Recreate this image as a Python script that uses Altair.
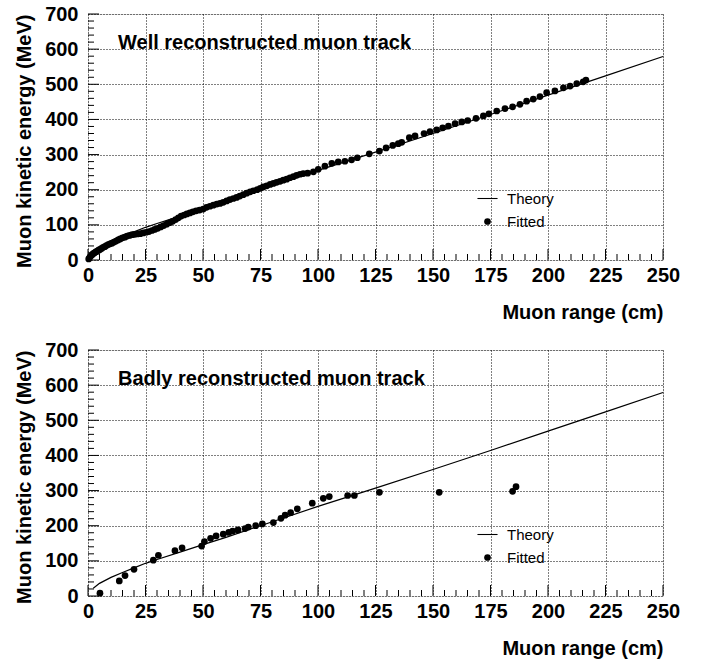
import altair as alt
import pandas as pd

# ---------------- data ----------------
theory_range = [2.3, 5, 10, 15, 20, 25, 30, 40, 50, 60, 75, 100, 125, 150, 175, 200, 225, 250]
theory_ke = [22, 36, 53, 67, 80, 93, 104, 125, 146, 167, 200, 255, 307, 360, 414, 469, 524, 579]

good_range = [0.3, 0.8, 1.3, 1.8, 2.3, 2.8, 3.4, 4.0, 4.6, 5.2, 5.9, 6.6, 7.3, 8.0, 8.8, 9.6,
              10.4, 11.3, 12.2, 13.1, 14.0, 15.0, 16.0, 17.0, 18.1, 19.2, 20.3, 21.5, 22.7,
              24.0, 25.3, 26.5, 27.8, 29.0, 30.3, 31.6, 32.9, 34.2, 35.5, 36.8, 38.1, 39.3,
              40.5, 41.8, 43.0, 44.3, 45.6, 47.0, 48.5, 50.1, 51.5, 53.0, 54.5, 56.0, 57.4,
              58.8, 60.3, 61.7, 63.2, 64.6, 66.0, 67.5, 69.0, 70.5, 71.9, 73.5, 74.9, 76.2,
              77.7, 79.2, 80.6, 82.0, 83.5, 84.9, 86.4, 87.8, 89.3, 90.7, 92.2, 93.6, 95.5,
              98.0, 100.1, 103.0, 106.0, 108.8, 111.7, 114.6, 117.1, 122.3, 126.7, 129.6,
              132.5, 134.9, 136.4, 139.7, 142.2, 146.1, 148.7, 151.6, 154.2, 156.7, 159.6,
              162.5, 165.1, 168.7, 171.9, 174.3, 177.7, 181.3, 184.6, 187.8, 190.7, 193.6,
              196.5, 199.4, 203.0, 206.7, 209.6, 212.5, 215.3, 216.5]
good_ke = [3, 8, 12, 15, 18, 20, 23, 25, 28, 30, 33, 36, 38, 41, 44, 46,
           48, 51, 54, 57, 60, 63, 65, 68, 70, 72, 73, 74, 75,
           77, 79, 81, 84, 87, 90, 94, 98, 102, 106, 110, 115, 120,
           125, 128, 131, 134, 137, 140, 142, 145, 150, 153, 156, 159, 161,
           164, 168, 172, 175, 178, 182, 186, 190, 194, 197, 200, 204, 208,
           211, 215, 218, 221, 224, 227, 230, 234, 237, 241, 244, 246, 247,
           251, 258, 267, 275, 279, 281, 285, 291, 302, 310, 319,
           326, 331, 335, 348, 353, 360, 365, 370, 376, 381, 388,
           393, 397, 403, 410, 416, 424, 431, 436, 443, 452, 458,
           465, 476, 481, 490, 495, 502, 507, 512]

bad_range = [5.2, 13.6, 16.1, 20.0, 28.4, 30.6, 37.8, 40.9, 49.4, 50.6, 53.3, 55.7, 58.8,
             61.2, 62.9, 65.2, 68.3, 69.7, 72.9, 75.8, 80.6, 83.9, 85.7, 88.1, 91.0, 97.5,
             102.3, 104.9, 112.9, 115.8, 126.7, 152.7, 184.6, 186.1]
bad_ke = [8, 43, 58, 76, 102, 116, 129, 137, 142, 155, 164, 171, 176,
          181, 185, 188, 192, 196, 200, 205, 209, 221, 230, 237, 248, 264,
          278, 283, 286, 286, 295, 295, 298, 311]

panel_titles = ["Well reconstructed muon track", "Badly reconstructed muon track"]
legend_labels = ["Theory", "Fitted"]
x_title = "Muon range (cm)"
y_title = "Muon kinetic energy (MeV)"
x_major = list(range(0, 251, 25))
x_minor = [v for v in range(0, 251, 5) if v % 25]
y_major = list(range(0, 701, 100))
y_minor = [v for v in range(0, 701, 20) if v % 100]

# ---------------- styling ----------------
FONT = "Liberation Sans"
W, H = 575, 246
FS = 20
MAJOR, MINOR = 11, 6   # inward tick lengths in px

xs = alt.Scale(domain=[0, 250], nice=False, zero=False)
ys = alt.Scale(domain=[0, 700], nice=False, zero=False)

main_x = alt.Axis(values=x_major, orient="bottom", title=x_title, titleAnchor="end",
                  titlePadding=17, labelPadding=5, ticks=False, tickSize=0, domain=False,
                  grid=True, gridDash=[1, 2], gridColor="black", gridWidth=1,
                  labelFont=FONT, labelFontSize=FS, labelFontWeight="bold", labelColor="black",
                  titleFont=FONT, titleFontSize=FS, titleFontWeight="bold", titleColor="black",
                  labelFlush=False, labelOverlap=False)
main_y = alt.Axis(values=y_major, orient="left", title=y_title, titleAnchor="end",
                  titlePadding=10, labelPadding=10, ticks=False, tickSize=0, domain=False,
                  grid=True, gridDash=[1, 2], gridColor="black", gridWidth=1,
                  labelFont=FONT, labelFontSize=FS, labelFontWeight="bold", labelColor="black",
                  titleFont=FONT, titleFontSize=FS, titleFontWeight="bold", titleColor="black",
                  labelFlush=False, labelOverlap=False)


def xticks(vals, ln):
    # inward tick: a filled 1px-wide bar symbol standing on the x axis line
    hw = round(1.0 / ln, 3)
    path = f"M{-hw},0H{hw}V-2H{-hw}Z"
    return alt.Chart(pd.DataFrame({"t": vals})).transform_calculate(a="0").mark_point(
        shape=path, filled=True, color="black", size=ln * ln, opacity=1
    ).encode(x=alt.X("t:Q", scale=xs, axis=main_x), y=alt.Y("a:Q", scale=ys, axis=main_y))


def yticks(vals, ln):
    hw = round(1.0 / ln, 3)
    path = f"M0,{-hw}H2V{hw}H0Z"
    return alt.Chart(pd.DataFrame({"t": vals})).transform_calculate(a="0").mark_point(
        shape=path, filled=True, color="black", size=ln * ln, opacity=1
    ).encode(y=alt.Y("t:Q", scale=ys, axis=main_y), x=alt.X("a:Q", scale=xs, axis=main_x))


def panel(px, py, label):
    theory_df = pd.DataFrame({"range": theory_range, "ke": theory_ke})
    fit_df = pd.DataFrame({"range": px, "ke": py, "series": legend_labels[1]})

    line = alt.Chart(theory_df).mark_line(color="black", strokeWidth=1.2).encode(
        x=alt.X("range:Q", scale=xs, axis=main_x),
        y=alt.Y("ke:Q", scale=ys, axis=main_y),
    )
    pts = alt.Chart(fit_df).mark_point(filled=True, color="black", size=45, opacity=1).encode(
        x=alt.X("range:Q", scale=xs, axis=main_x),
        y=alt.Y("ke:Q", scale=ys, axis=main_y),
        shape=alt.Shape("series:N",
                        scale=alt.Scale(domain=legend_labels,
                                        range=["M-3,-0.16H3V0.16H-3Z", "circle"]),
                        legend=alt.Legend(title=None, orient="none", legendX=392, legendY=177,
                                          padding=0, rowPadding=7, labelOffset=12,
                                          symbolSize=45, symbolFillColor="black",
                                          labelFont=FONT, labelFontSize=15, labelColor="black")),
    )
    txt = alt.Chart(fit_df.head(1)).mark_text(
        text=label, align="left", baseline="middle", font=FONT, fontSize=FS,
        fontWeight="bold", color="black",
    ).encode(x=alt.value(30), y=alt.value(29))

    return alt.layer(line, pts, xticks(x_major, MAJOR), xticks(x_minor, MINOR),
                     yticks(y_major, MAJOR), yticks(y_minor, MINOR), txt).properties(
        width=W, height=H)


top = panel(good_range, good_ke, panel_titles[0])
bottom = panel(bad_range, bad_ke, panel_titles[1])

chart = alt.vconcat(top, bottom, spacing=16).resolve_scale(
    x="independent", y="independent", shape="independent"
).properties(padding={"left": 14, "top": 3, "right": 5, "bottom": 5}).configure_view(
    stroke="black", strokeWidth=1.5
).configure(background="white")

chart.save("out.html", embed_options={"renderer": "svg", "actions": False})
